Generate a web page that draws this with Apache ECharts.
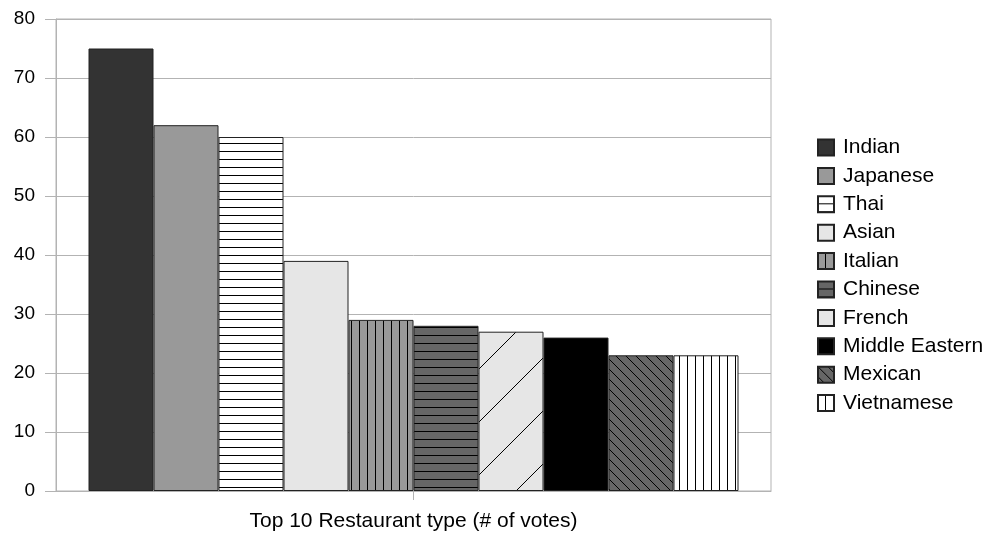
<!DOCTYPE html>
<html>
<head>
<meta charset="utf-8">
<script src="https://cdn.jsdelivr.net/npm/echarts@6/dist/echarts.min.js"></script>
<style>
html,body{margin:0;padding:0;background:#fff;}
#chart{width:996px;height:533px;}
</style>
</head>
<body>
<div id="chart"></div>
<script>
const categories = ['Top 10 Restaurant type (# of votes)'];
const seriesNames = ['Indian','Japanese','Thai','Asian','Italian','Chinese','French','Middle Eastern','Mexican','Vietnamese'];
const votes = [75, 62, 60, 39, 29, 28, 27, 26, 23, 23];
const yMin = 0, yMax = 80, yStep = 10;

// fill styles: [background, hatch type]
const fills = [
  ['#333333', null],
  ['#999999', null],
  ['#ffffff', 'h'],
  ['#e6e6e6', null],
  ['#999999', 'v'],
  ['#666666', 'h'],
  ['#e6e6e6', 'd1'],
  ['#000000', null],
  ['#666666', 'd2'],
  ['#ffffff', 'v']
];

function makePattern(bg, type) {
  if (!type) return bg;
  let size = 8;
  if (type === 'd1') size = 53;
  if (type === 'd2') size = 10;
  const c = document.createElement('canvas');
  c.width = size; c.height = size;
  const ctx = c.getContext('2d');
  ctx.fillStyle = bg;
  ctx.fillRect(0, 0, size, size);
  ctx.fillStyle = '#000';
  ctx.strokeStyle = '#000';
  ctx.lineWidth = 1;
  if (type === 'h') ctx.fillRect(0, size - 1, size, 1);
  else if (type === 'v') ctx.fillRect(size - 1, 0, 1, size);
  else if (type === 'd1') {
    [-size, 0, size].forEach(k => {
      ctx.beginPath(); ctx.moveTo(0, size + k); ctx.lineTo(size, k); ctx.stroke();
    });
  } else if (type === 'd2') {
    [-size, 0, size].forEach(k => {
      ctx.beginPath(); ctx.moveTo(0, k); ctx.lineTo(size, size + k); ctx.stroke();
    });
  }
  return { image: c, repeat: 'repeat' };
}

const FONT = 'Liberation Sans, Arial, sans-serif';
const chart = echarts.init(document.getElementById('chart'), null, { renderer: 'canvas' });

const series = seriesNames.map((name, i) => ({
  name: name,
  type: 'bar',
  data: [votes[i]],
  barWidth: 65,
  barGap: '0%',
  itemStyle: {
    color: makePattern(fills[i][0], fills[i][1]),
    borderColor: '#222222',
    borderWidth: 1
  },
  emphasis: { disabled: true }
}));

chart.setOption({
  animation: false,
  backgroundColor: '#ffffff',
  grid: {
    left: 56, right: 225, top: 19, bottom: 42,
    show: true, borderColor: '#b3b3b3', borderWidth: 1, backgroundColor: 'transparent'
  },
  legend: {
    orient: 'vertical',
    left: 817,
    top: 137,
    padding: 0,
    icon: 'rect',
    itemWidth: 16,
    itemHeight: 16,
    itemGap: 7.4,
    selectedMode: false,
    textStyle: { fontFamily: FONT, fontSize: 21, color: '#000', lineHeight: 21, padding: [0, 0, 0, 4] },
    data: seriesNames
  },
  xAxis: {
    type: 'category',
    data: categories,
    axisLine: { show: true, lineStyle: { color: '#b3b3b3', width: 1 } },
    axisTick: { show: true, alignWithLabel: true, length: 9, lineStyle: { color: '#b3b3b3' } },
    axisLabel: { fontFamily: FONT, fontSize: 21, color: '#000', margin: 20 },
    splitLine: { show: false }
  },
  yAxis: {
    type: 'value',
    min: yMin, max: yMax, interval: yStep,
    axisLine: { show: true, lineStyle: { color: '#b3b3b3', width: 1 } },
    axisTick: { show: true, length: 11, lineStyle: { color: '#b3b3b3' } },
    axisLabel: { fontFamily: FONT, fontSize: 19, color: '#000', margin: 21 },
    splitLine: { show: true, lineStyle: { color: '#b3b3b3', width: 1 } }
  },
  series: series
});
</script>
</body>
</html>
